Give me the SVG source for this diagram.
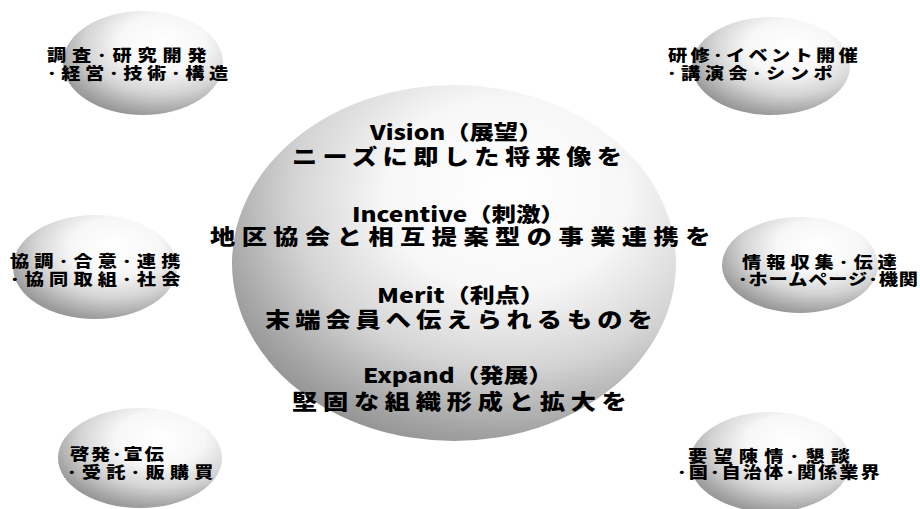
<svg xmlns="http://www.w3.org/2000/svg" width="920" height="509" viewBox="0 0 920 509">
<defs>
<radialGradient id="sph" cx="0.62" cy="0.32" r="0.78" fx="0.62" fy="0.3">
<stop offset="0" stop-color="#ffffff"/>
<stop offset="0.35" stop-color="#f7f7f7"/>
<stop offset="0.62" stop-color="#d4d4d4"/>
<stop offset="0.85" stop-color="#a2a2a2"/>
<stop offset="1" stop-color="#868686"/>
</radialGradient>
</defs>
<style>
.s{fill:url(#sph);}
.t{font-family:"Noto Sans CJK JP","Noto Sans",sans-serif;font-weight:900;fill:#000;}
.c{font-size:21px;}
.l{font-size:20px;}
.n{font-size:16px;}
</style>
<rect width="920" height="509" fill="#ffffff"/>
<g id="connectors"/>
<g id="center">
<ellipse class="s" cx="454" cy="263" rx="222" ry="178"/>
<text class="t l" transform="translate(370,140) scale(1.15,1)" textLength="150" lengthAdjust="spacingAndGlyphs">Vision（展望）</text>
<text class="t c" transform="translate(292,164) scale(1.2,1)" textLength="275" lengthAdjust="spacing">ニーズに即した将来像を</text>
<text class="t l" transform="translate(352,222) scale(1.15,1)" textLength="185" lengthAdjust="spacingAndGlyphs">Incentive（刺激）</text>
<text class="t c" transform="translate(210,244) scale(1.2,1)" textLength="417" lengthAdjust="spacing">地区協会と相互提案型の事業連携を</text>
<text class="t l" transform="translate(377,303) scale(1.15,1)" textLength="146" lengthAdjust="spacingAndGlyphs">Merit（利点）</text>
<text class="t c" transform="translate(265,327) scale(1.2,1)" textLength="323" lengthAdjust="spacing">末端会員へ伝えられるものを</text>
<text class="t l" transform="translate(363,383) scale(1.15,1)" textLength="165" lengthAdjust="spacingAndGlyphs">Expand（発展）</text>
<text class="t c" transform="translate(292,409) scale(1.2,1)" textLength="279" lengthAdjust="spacing">堅固な組織形成と拡大を</text>
</g>
<g id="node-tl">
<ellipse class="s" cx="143" cy="63" rx="80" ry="52"/>
<text class="t n" transform="translate(47,61) scale(1.2,1)" textLength="133" lengthAdjust="spacing">調査･研究開発</text>
<text class="t n" transform="translate(47,79) scale(1.2,1)" textLength="151" lengthAdjust="spacing">･経営･技術･構造</text>
</g>
<g id="node-tr">
<ellipse class="s" cx="771" cy="66" rx="79" ry="49"/>
<text class="t n" transform="translate(668,61) scale(1.2,1)" textLength="158" lengthAdjust="spacing">研修･イベント開催</text>
<text class="t n" transform="translate(667,79) scale(1.2,1)" textLength="138" lengthAdjust="spacing">･講演会･シンポ</text>
</g>
<g id="node-ml">
<ellipse class="s" cx="95" cy="267" rx="82" ry="52"/>
<text class="t n" transform="translate(10,267) scale(1.2,1)" textLength="142" lengthAdjust="spacing">協調･合意･連携</text>
<text class="t n" transform="translate(10,285) scale(1.2,1)" textLength="142" lengthAdjust="spacing">･協同取組･社会</text>
</g>
<g id="node-mr">
<ellipse class="s" cx="800" cy="265" rx="78" ry="48"/>
<text class="t n" transform="translate(742,268) scale(1.2,1)" textLength="129" lengthAdjust="spacing">情報収集･伝達</text>
<text class="t n" transform="translate(738,285) scale(1.2,1)" textLength="150" lengthAdjust="spacing">･ホームページ･機関</text>
</g>
<g id="node-bl">
<ellipse class="s" cx="140" cy="458" rx="82" ry="50"/>
<text class="t n" transform="translate(70,460) scale(1.2,1)" textLength="78" lengthAdjust="spacing">啓発･宣伝</text>
<text class="t n" transform="translate(67,478) scale(1.2,1)" textLength="122" lengthAdjust="spacing">･受託･販購買</text>
</g>
<g id="node-br">
<ellipse class="s" cx="770" cy="462" rx="80" ry="50"/>
<text class="t n" transform="translate(688,462) scale(1.2,1)" textLength="135" lengthAdjust="spacing">要望陳情･懇談</text>
<text class="t n" transform="translate(677,478) scale(1.2,1)" textLength="169" lengthAdjust="spacing">･国･自治体･関係業界</text>
</g>
</svg>
